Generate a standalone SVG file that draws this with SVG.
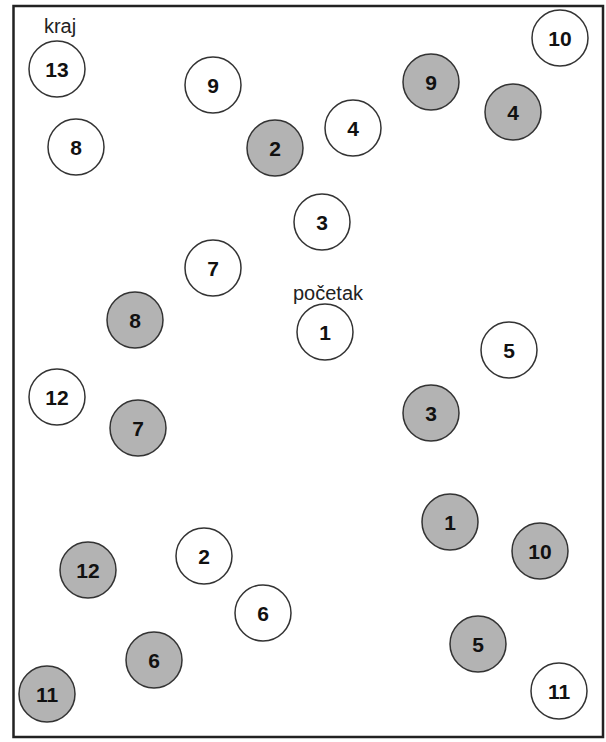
<svg xmlns="http://www.w3.org/2000/svg" width="606" height="742" viewBox="0 0 606 742">
<style>
.n circle{stroke:#333;stroke-width:1.5}
.w circle{fill:#fff}
.g circle{fill:#b3b3b3}
.n text{font-family:"Liberation Sans",Arial,sans-serif;font-weight:bold;font-size:21px;fill:#111;text-anchor:middle;dominant-baseline:central}
.lbl{font-family:"Liberation Sans",Arial,sans-serif;font-size:20px;fill:#222;text-anchor:middle}
</style>
<rect x="13.5" y="6" width="589.5" height="731" fill="#fff" stroke="#222" stroke-width="2.5"/>
<text class="lbl" x="60" y="33">kraj</text>
<text class="lbl" x="328" y="300">početak</text>
<g id="connectors"/>
<g id="w13" class="n w"><circle cx="57" cy="69" r="28"/><text x="57" y="69">13</text></g>
<g id="w8" class="n w"><circle cx="76" cy="147" r="28"/><text x="76" y="147">8</text></g>
<g id="w10" class="n w"><circle cx="560" cy="38" r="28"/><text x="560" y="38">10</text></g>
<g id="g9" class="n g"><circle cx="431" cy="82" r="28"/><text x="431" y="82">9</text></g>
<g id="g4" class="n g"><circle cx="513" cy="112" r="28"/><text x="513" y="112">4</text></g>
<g id="w9" class="n w"><circle cx="213" cy="85" r="28"/><text x="213" y="85">9</text></g>
<g id="g2" class="n g"><circle cx="275" cy="148" r="28"/><text x="275" y="148">2</text></g>
<g id="w4" class="n w"><circle cx="353" cy="128" r="28"/><text x="353" y="128">4</text></g>
<g id="w3" class="n w"><circle cx="322" cy="222" r="28"/><text x="322" y="222">3</text></g>
<g id="w7" class="n w"><circle cx="213" cy="268" r="28"/><text x="213" y="268">7</text></g>
<g id="w1" class="n w"><circle cx="325" cy="332" r="28"/><text x="325" y="332">1</text></g>
<g id="g8" class="n g"><circle cx="135" cy="320" r="28"/><text x="135" y="320">8</text></g>
<g id="w12" class="n w"><circle cx="57" cy="397" r="28"/><text x="57" y="397">12</text></g>
<g id="g7" class="n g"><circle cx="138" cy="428" r="28"/><text x="138" y="428">7</text></g>
<g id="w5" class="n w"><circle cx="509" cy="350" r="28"/><text x="509" y="350">5</text></g>
<g id="g3" class="n g"><circle cx="431" cy="413" r="28"/><text x="431" y="413">3</text></g>
<g id="g12" class="n g"><circle cx="88" cy="570" r="28"/><text x="88" y="570">12</text></g>
<g id="w2" class="n w"><circle cx="204" cy="556" r="28"/><text x="204" y="556">2</text></g>
<g id="w6" class="n w"><circle cx="263" cy="613" r="28"/><text x="263" y="613">6</text></g>
<g id="g6" class="n g"><circle cx="154" cy="660" r="28"/><text x="154" y="660">6</text></g>
<g id="g11" class="n g"><circle cx="47" cy="694" r="28"/><text x="47" y="694">11</text></g>
<g id="g1" class="n g"><circle cx="450" cy="522" r="28"/><text x="450" y="522">1</text></g>
<g id="g10" class="n g"><circle cx="540" cy="551" r="28"/><text x="540" y="551">10</text></g>
<g id="g5" class="n g"><circle cx="478" cy="644" r="28"/><text x="478" y="644">5</text></g>
<g id="w11" class="n w"><circle cx="559" cy="691" r="28"/><text x="559" y="691">11</text></g>
</svg>
